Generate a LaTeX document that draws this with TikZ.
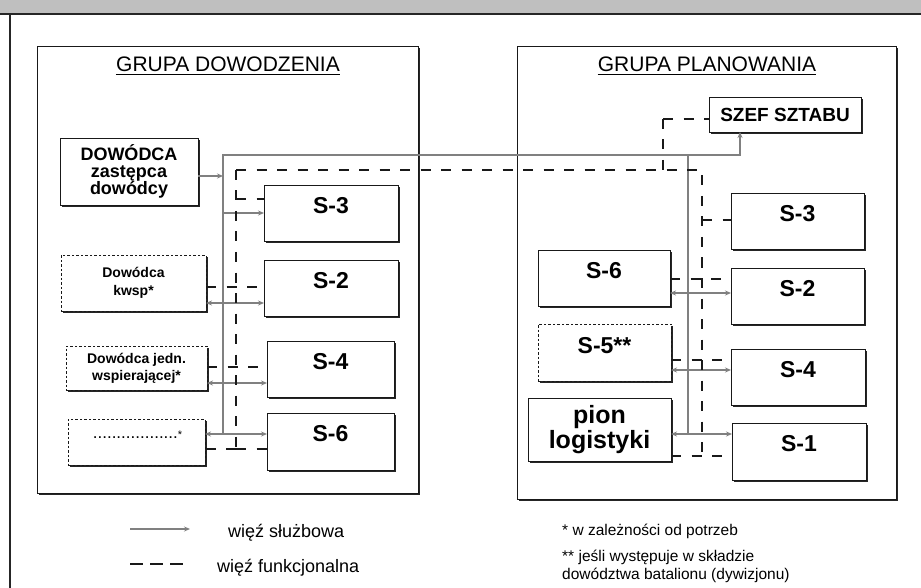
\documentclass[tikz,border=0pt]{standalone}
\usepackage{fontspec}
\setmainfont{Liberation Sans}
\usetikzlibrary{arrows.meta,shadows}
\tikzset{
  wh/.style 2 args={minimum width=#1pt, minimum height=#2pt},
  box/.style={draw=black!90, line width=0.9pt, fill=white, inner sep=0pt, outer sep=0pt,
    drop shadow={shadow xshift=2.2pt, shadow yshift=-2.2pt, fill=black!85, opacity=1}},
  dbox/.style={box, dash pattern=on 2.5pt off 2pt, line width=0.7pt},
  grpbox/.style={box, line width=0.9pt, drop shadow={shadow xshift=1.8pt, shadow yshift=-1.8pt, fill=black!85, opacity=1}},
  slab/.style={font=\fontsize{23}{25}\selectfont\bfseries, inner sep=0pt, anchor=base},
  ttl/.style={font=\fontsize{21}{24}\selectfont, inner sep=0pt, anchor=base},
  func/.style={draw=black!90, line width=2.8pt, dash pattern=on 10pt off 10.5pt},
  serv/.style={draw=black!50, line width=1.5pt},
  tipR/.style={-{Stealth[length=6pt,width=5pt]}},
  tipLR/.style={{Stealth[length=6pt,width=5pt]}-{Stealth[length=6pt,width=5pt]}},
  legtxt/.style={anchor=base west, inner sep=0pt, font=\fontsize{18}{20}\selectfont},
  fntxt/.style={anchor=base west, inner sep=0pt, font=\fontsize{15.5}{18}\selectfont},
}
\begin{document}
\begin{tikzpicture}[x=1pt,y=-1pt]
\useasboundingbox (0,0) rectangle (921,588);
\fill[white] (0,0) rectangle (921,588);
% scanned top band and outer frame
\fill[black!25] (0,0) rectangle (921,13);
\draw[line width=2pt, black!85] (0,14) -- (921,14);
\draw[line width=2pt, black!85] (10,14) -- (10,588);

% group boxes
\node[grpbox, wh={381}{447}] (gD) at (227.5,269.5) {};
\node[grpbox, wh={379}{453}] (gP) at (706.5,272.5) {};
\node[ttl] (tD) at (228,72) {GRUPA DOWODZENIA};
\node[ttl] (tP) at (707,72) {GRUPA PLANOWANIA};
\draw[line width=1pt] ([yshift=-3pt]tD.base west) -- ([yshift=-3pt]tD.base east);
\draw[line width=1pt] ([yshift=-3pt]tP.base west) -- ([yshift=-3pt]tP.base east);

% left group boxes
\node[box, wh={138}{67}, align=center, font=\fontsize{18}{17}\selectfont\bfseries] (dow) at (129,171.5) {DOWÓDCA\\zastępca\\dowódcy};
\node[dbox, wh={145}{56}, align=center, font=\fontsize{14}{18}\selectfont\bfseries] (kwsp) at (133.5,283) {Dowódca\\kwsp*};
\node[dbox, wh={141}{44}, align=center, font=\fontsize{14}{17}\selectfont\bfseries] (jedn) at (136.5,368) {Dowódca jedn.\\wspierającej*};
\node[dbox, wh={137}{46}] (dots) at (136.5,442) {};
\node[anchor=base, inner sep=0pt, font=\fontsize{17}{17}\selectfont] (dotsx) at (137.5,438) {..................{\fontsize{11}{11}\selectfont *}};

\node[box, wh={134}{56}] (s3L) at (331,213) {};
\node[box, wh={134}{56}] (s2L) at (331,288) {};
\node[box, wh={127}{56}] (s4L) at (330.5,369) {};
\node[box, wh={127}{57}] (s6L) at (330.5,441.5) {};
\node[slab] (s3Lx) at ([yshift=-28.5pt]s3L.north) {S-3};
\node[slab] (s2Lx) at ([yshift=-28.5pt]s2L.north) {S-2};
\node[slab] (s4Lx) at ([yshift=-28.5pt]s4L.north) {S-4};
\node[slab] (s6Lx) at ([yshift=-28.5pt]s6L.north) {S-6};

% right group boxes
\node[box, wh={152}{35}, font=\fontsize{19}{21}\selectfont\bfseries] (szef) at (785,114.5) {SZEF SZTABU};
\node[box, wh={133}{56}] (s3R) at (797.5,221) {};
\node[box, wh={133}{56}] (s2R) at (797.5,296) {};
\node[box, wh={134}{56}] (s4R) at (798,377) {};
\node[box, wh={134}{57}] (s1R) at (799,451.5) {};
\node[box, wh={132}{56}] (s6R) at (604,278) {};
\node[dbox, wh={133}{57}] (s5R) at (604.5,352.5) {};
\node[box, wh={143}{63}, align=center, font=\fontsize{25}{23}\selectfont\bfseries] (pion) at (599.5,429.5) {pion\\logistyki};
\node[slab] (s3Rx) at ([yshift=-28.5pt]s3R.north) {S-3};
\node[slab] (s2Rx) at ([yshift=-28.5pt]s2R.north) {S-2};
\node[slab] (s4Rx) at ([yshift=-28.5pt]s4R.north) {S-4};
\node[slab] (s1Rx) at ([yshift=-28.5pt]s1R.north) {S-1};
\node[slab] (s6Rx) at ([yshift=-28.5pt]s6R.north) {S-6};
\node[slab] (s5Rx) at ([yshift=-29pt]s5R.north) {S-5**};

% bus coordinates
\coordinate (gTL) at (223,155);
\coordinate (gBL) at (223,434);
\coordinate (gTR) at (740,155);
\coordinate (gVR) at (688,155);
\coordinate (gBR) at (688,434);
\coordinate (fTL) at (236,170);
\coordinate (fBL) at (236,449);
\coordinate (fTR) at (702,170);
\coordinate (fBR) at (702,456);
\coordinate (fUp) at (663,170);
\coordinate (fUpT) at (663,119);

% sluzbowa (grey)
\draw[serv, tipR] (gBL) -- (gTL) -- (gTR) -- (gTR |- szef.south);
\draw[serv] (gVR) -- (gBR);
\draw[serv, tipR] (dow.east |- 0,176) -- (gTL |- 0,176);
\draw[serv, tipR] (gTL |- 0,213) -- (s3L.west |- 0,213);
\draw[serv, tipLR] (kwsp.east |- 0,303) -- (s2L.west |- 0,303);
\draw[serv, tipLR] (jedn.east |- 0,383) -- (s4L.west |- 0,383);
\draw[serv, tipLR] (dots.east |- gBL) -- (s6L.west |- gBL);
\draw[serv, tipLR] (s6R.east |- 0,293) -- (s2R.west |- 0,293);
\draw[serv, tipLR] (s5R.east |- 0,370) -- (s4R.west |- 0,370);
\draw[serv, tipLR] (pion.east |- gBR) -- (s1R.west |- gBR);

% funkcjonalna (dashed)
\draw[func] (fTL) -- (fBL);
\draw[func] (fTL) -- (fTR) -- (fBR);
\draw[func] (fUpT) -- (fUp);
\draw[func] (fUpT) -- (szef.west |- fUpT);
\draw[func] (fBL) -- (dots.east |- fBL);
\draw[func] (fBL) -- (s6L.west |- fBL);
\draw[func] (fTL |- 0,199) -- (s3L.west |- 0,199);
\draw[func] (kwsp.east |- 0,287) -- (s2L.west |- 0,287);
\draw[func] (jedn.east |- 0,367) -- (s4L.west |- 0,367);
\draw[func] (fTR |- 0,220) -- (s3R.west |- 0,220);
\draw[func] (s6R.east |- 0,279) -- (s2R.west |- 0,279);
\draw[func] (s5R.east |- 0,360) -- (s4R.west |- 0,360);
\draw[func] (pion.east |- fBR) -- (s1R.west |- fBR);

% legend
\coordinate (lg1a) at (130,529);
\coordinate (lg1b) at (190,529);
\coordinate (lg2a) at (130,564);
\coordinate (lg2b) at (185,564);
\draw[serv, tipR] (lg1a) -- (lg1b);
\draw[func, dash pattern=on 13pt off 7pt] (lg2a) -- (lg2b);
\node[legtxt] (leg1) at (228,537) {więź służbowa};
\node[legtxt] (leg2) at (217,572) {więź funkcjonalna};

% footnotes
\node[fntxt] (fn1) at (562,535) {* w zależności od potrzeb};
\node[fntxt] (fn2) at (562,561) {** jeśli występuje w składzie};
\node[fntxt] (fn3) at (562,579) {dowództwa batalionu (dywizjonu)};
\end{tikzpicture}
\end{document}
